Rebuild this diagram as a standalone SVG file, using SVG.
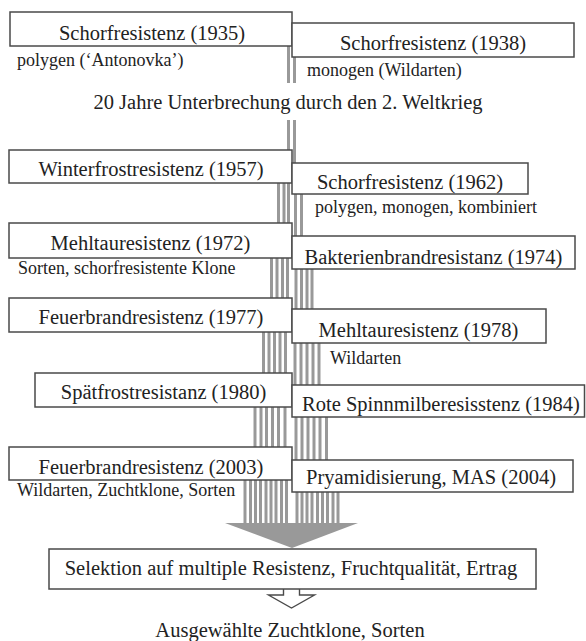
<svg xmlns="http://www.w3.org/2000/svg" width="586" height="641" viewBox="0 0 586 641">
<style>
.bg{fill:#ffffff}
.box{fill:#ffffff;stroke:#4a4a4a;stroke-width:1.5}
.lbl{font-family:"Liberation Serif","Times New Roman",serif;font-size:20.5px;fill:#222222;text-anchor:middle}
.note{font-family:"Liberation Serif","Times New Roman",serif;font-size:18px;fill:#222222}
.stripe{stroke:#999999;stroke-width:3;fill:none}
.head{fill:#999999}
.hollow{fill:#ffffff;stroke:#4a4a4a;stroke-width:1.4}
</style>
<rect class="bg" x="0" y="0" width="586" height="641"/>
<g id="connectors">
<path class="stripe" d="M288.5 46V83M288.5 120V150M294.5 57V83M294.5 120V163"/>
<path class="stripe" d="M278.5 183V223M284 183V223M288.5 183V223M295.5 194V236M301.5 194V236"/>
<path class="stripe" d="M271.5 258V298M277 258V298M282.5 258V298M287.5 258V298M296 269V309M301.5 269V309M307 269V309M312 269V309"/>
<path class="stripe" d="M263.5 332V373M269 332V373M274.5 332V373M280 332V373M285.5 332V373M295 343V385M301 343V385M307 343V385M313 343V385M319 343V385"/>
<path class="stripe" d="M255 407V447M261 407V447M266.5 407V447M272.5 407V447M278.5 407V447M285 407V447M296 417V460M302 417V460M308 417V460M314 417V460M320 417V460M326.5 417V460"/>
<path class="stripe" d="M245 480V523M250.5 480V523M255.5 480V523M260.5 480V523M266 480V523M271 480V523M276 480V523M281.5 480V523M286.5 480V523M297 492V523M302 492V523M307 492V523M312 492V523M317.5 492V523M322.5 492V523M327.5 492V523M333 492V523M338 492V523"/>
<polygon class="head" points="225,523 358,523 292,548"/>
<polyline class="hollow" points="283.5,589 283.5,595 268.5,595 291.5,608 314.5,595 299.5,595 299.5,589"/>
</g>
<g id="n1935"><rect class="box" x="10" y="12" width="282" height="34"/><text class="lbl" x="152" y="39.5">Schorfresistenz (1935)</text><text class="note" x="17" y="66">polygen (‘Antonovka’)</text></g>
<g id="n1938"><rect class="box" x="292" y="23" width="282" height="34"/><text class="lbl" x="433" y="50">Schorfresistenz (1938)</text><text class="note" x="307" y="76">monogen (Wildarten)</text></g>
<g id="break"><text class="lbl" x="288" y="108.5">20 Jahre Unterbrechung durch den 2. Weltkrieg</text></g>
<g id="n1957"><rect class="box" x="9" y="150" width="283" height="33"/><text class="lbl" x="151" y="176">Winterfrostresistenz (1957)</text></g>
<g id="n1962"><rect class="box" x="292" y="163" width="236" height="31"/><text class="lbl" x="410" y="188.5">Schorfresistenz (1962)</text><text class="note" x="315" y="213">polygen, monogen, kombiniert</text></g>
<g id="n1972"><rect class="box" x="9" y="223" width="283" height="35"/><text class="lbl" x="150.5" y="250">Mehltauresistenz (1972)</text><text class="note" x="18" y="274">Sorten, schorfresistente Klone</text></g>
<g id="n1974"><rect class="box" x="292" y="236" width="283" height="33"/><text class="lbl" x="433.5" y="264">Bakterienbrandresistanz (1974)</text></g>
<g id="n1977"><rect class="box" x="9" y="298" width="283" height="34"/><text class="lbl" x="151" y="324">Feuerbrandresistenz (1977)</text></g>
<g id="n1978"><rect class="box" x="292" y="309" width="254" height="34"/><text class="lbl" x="418.5" y="337">Mehltauresistenz (1978)</text><text class="note" x="330" y="364">Wildarten</text></g>
<g id="n1980"><rect class="box" x="35" y="373" width="257" height="34"/><text class="lbl" x="163.5" y="399">Spätfrostresistanz (1980)</text></g>
<g id="n1984"><rect class="box" x="292" y="385" width="292.5" height="32"/><text class="lbl" x="441" y="411">Rote Spinnmilberesisstenz (1984)</text></g>
<g id="n2003"><rect class="box" x="9" y="447" width="283" height="33"/><text class="lbl" x="151" y="474">Feuerbrandresistenz (2003)</text><text class="note" x="17" y="496">Wildarten, Zuchtklone, Sorten</text></g>
<g id="n2004"><rect class="box" x="292" y="460" width="281" height="32"/><text class="lbl" x="431" y="484">Pryamidisierung, MAS (2004)</text></g>
<g id="selektion"><rect class="box" x="49" y="549" width="487" height="40"/><text class="lbl" x="291" y="575">Selektion auf multiple Resistenz, Fruchtqualität, Ertrag</text></g>
<g id="result"><text class="lbl" x="290" y="637">Ausgewählte Zuchtklone, Sorten</text></g>
</svg>
